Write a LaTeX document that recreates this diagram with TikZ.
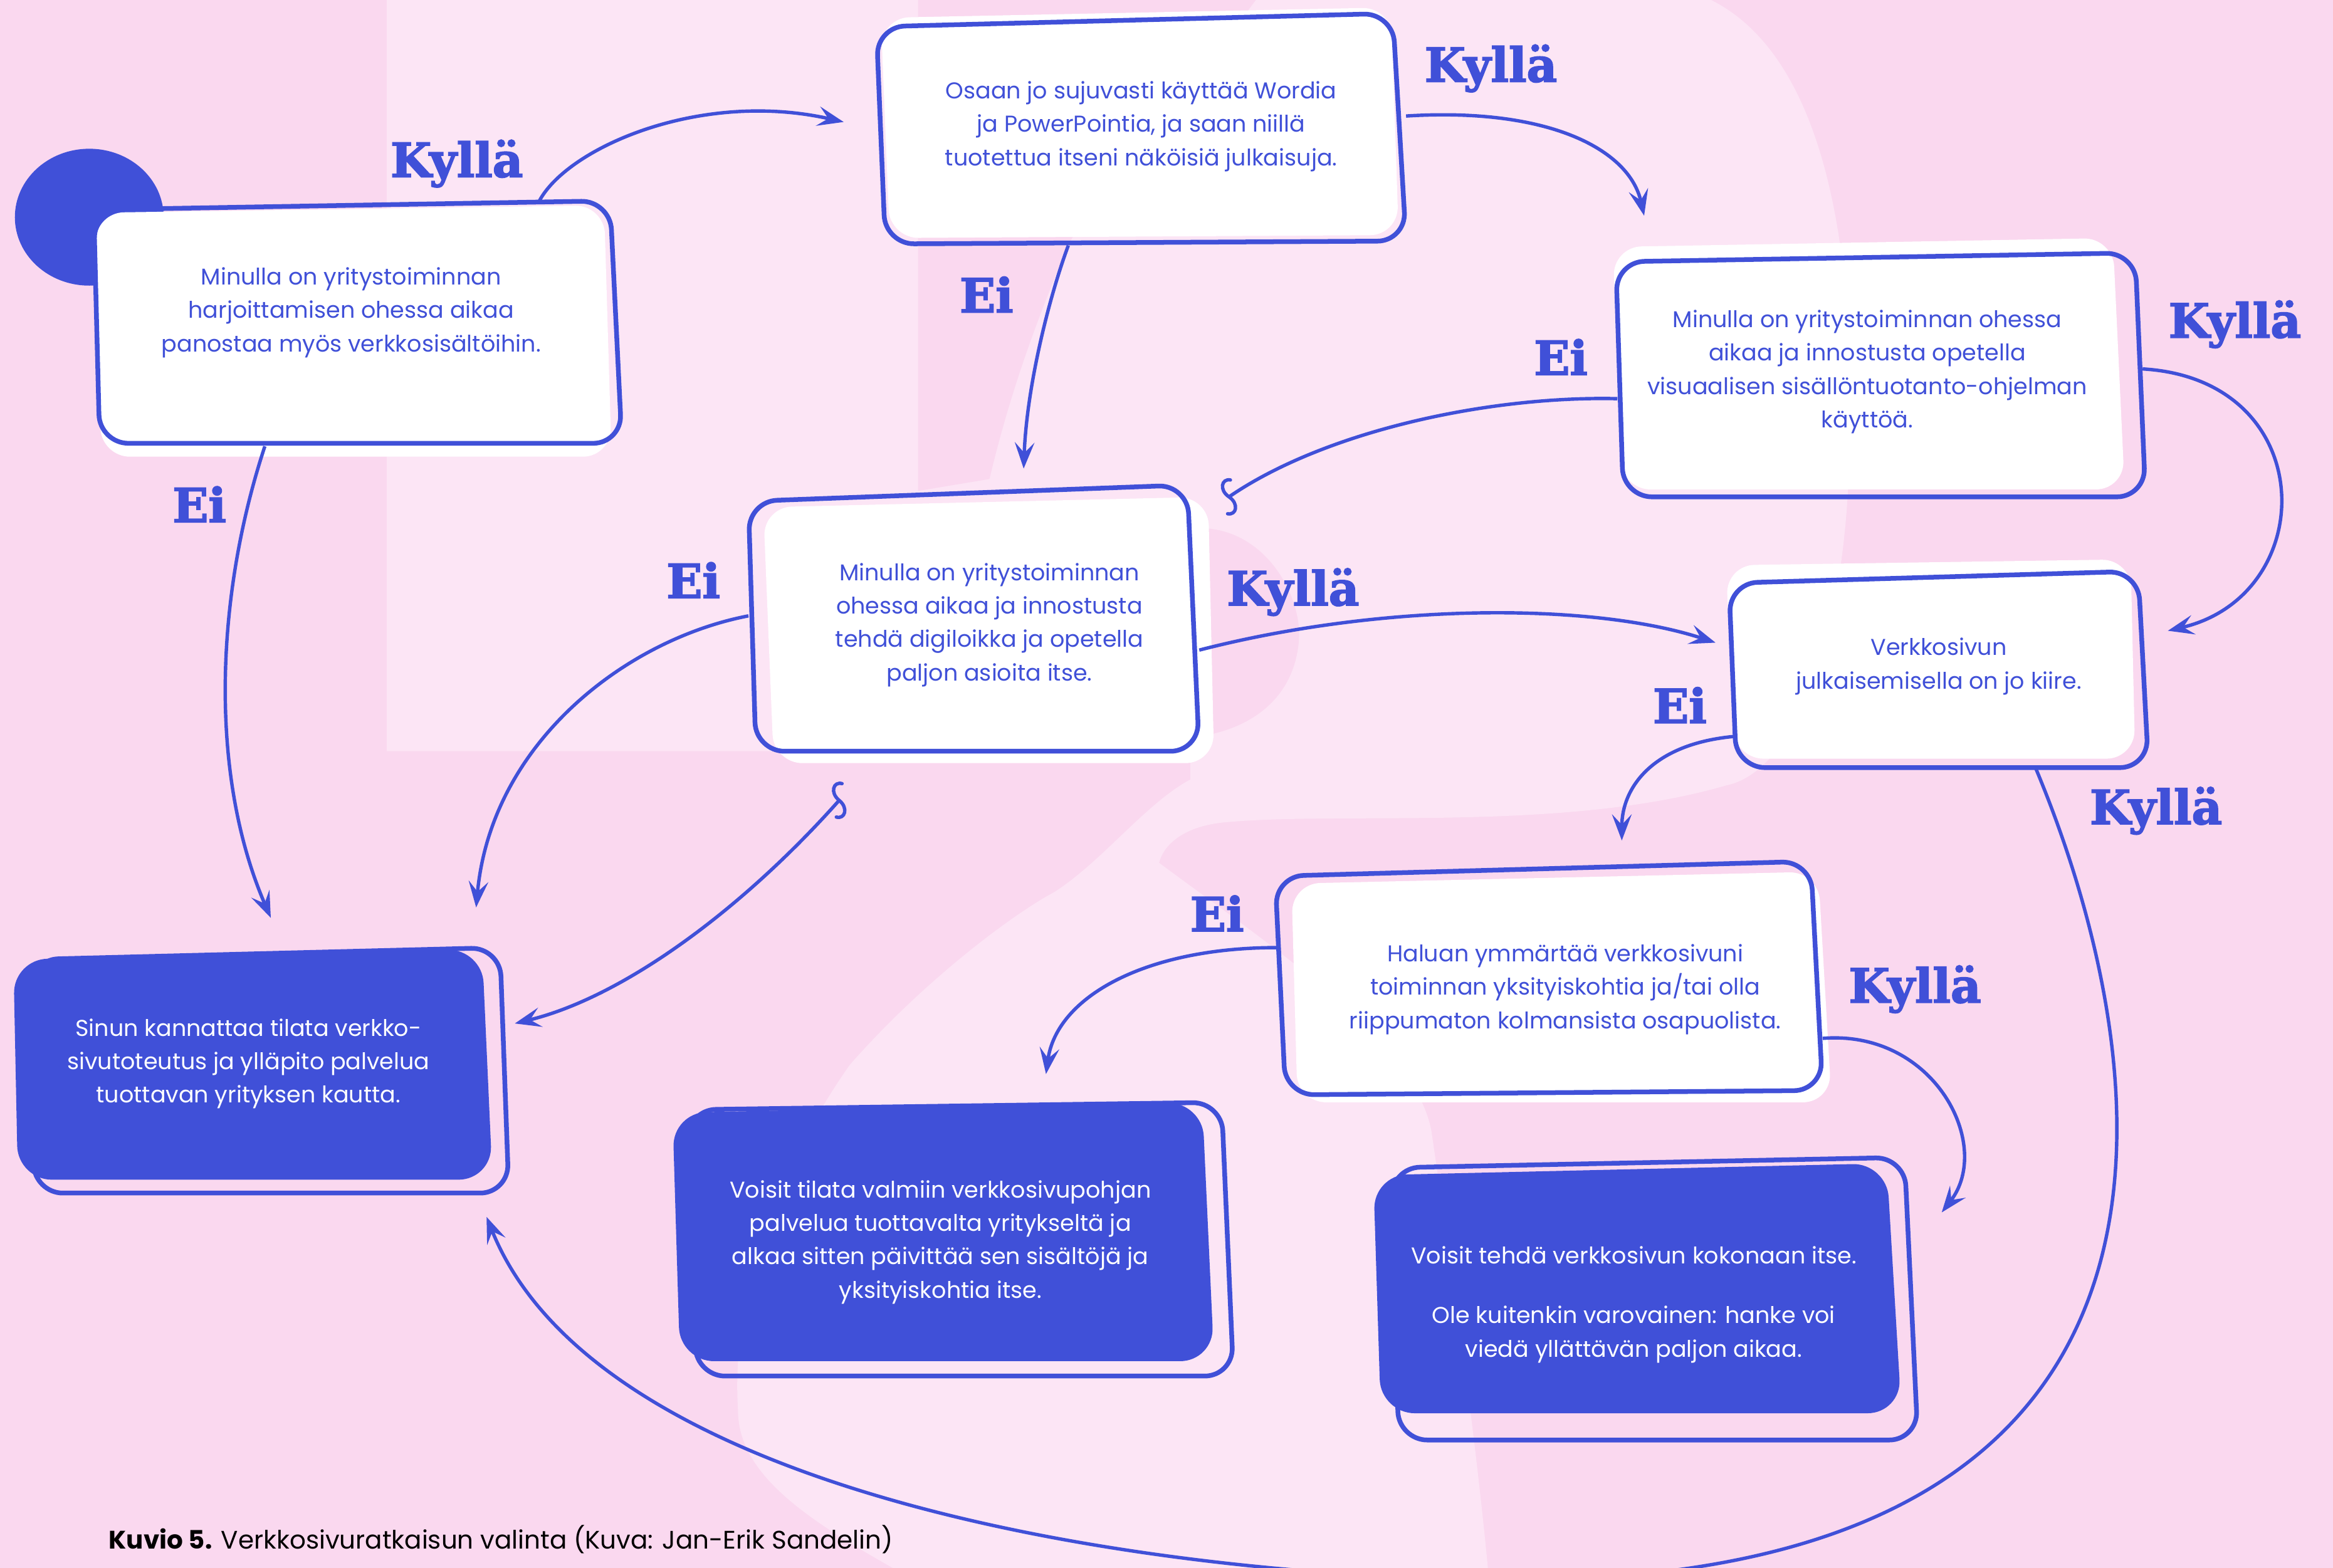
\documentclass[tikz,border=0pt]{standalone}
\usepackage{fontspec}
\setmainfont{Poppins}
\newfontfamily\slabfont[BoldFeatures={FakeBold=2.5}]{DejaVu Serif}
\usetikzlibrary{arrows.meta}
\usetikzlibrary{calc}
\definecolor{inkblue}{HTML}{4050D8}
\definecolor{pinkbg}{HTML}{FAD8EF}
\definecolor{pinklight}{HTML}{FCE5F5}

\begin{document}
\begin{tikzpicture}[x=0.02cm,y=-0.02cm,
  link/.style={inkblue,line width=1.3pt,-{Stealth[length=10pt,width=7.5pt,inset=4pt]}},
  cardline/.style={draw=inkblue,line width=1.8pt,rounded corners=11pt},
  card/.style={fill=white,rounded corners=11pt},
  bluecard/.style={fill=inkblue,rounded corners=13pt},
  txt/.style={text=inkblue,align=center,font=\fontsize{8.75}{12.8}\selectfont},
  wtxt/.style={txt,text=white},
  answer/.style={text=inkblue,font=\slabfont\bfseries\fontsize{18}{18}\selectfont},
  squig/.pic={\draw[inkblue,line width=1.3pt,line cap=round] (-3,-11) .. controls (-9,-10) and (-8,-2) .. (0,0) .. controls (8,2) and (9,10) .. (3,11);}]
\useasboundingbox (0,0) rectangle (1568,1054);
\clip (0,0) rectangle (1568,1054);
% background letter
\fill[pinkbg] (0,0) rectangle (1568,1054);
\fill[pinklight] (260,0) -- (1150,0) .. controls (1230,40) and (1250,180) .. (1242,330)
   .. controls (1235,450) and (1200,520) .. (1160,528) .. controls (1050,560) and (900,545) .. (821,553)
   .. controls (795,556) and (782,568) .. (779,580) .. controls (860,640) and (950,700) .. (962,760)
   .. controls (975,850) and (990,950) .. (1000,1054) -- (600,1054) .. controls (540,1020) and (496,990) .. (496,948)
   .. controls (490,850) and (540,760) .. (571,716) .. controls (620,660) and (680,615) .. (708,600)
   .. controls (740,580) and (770,540) .. (800,524) -- (800,505) -- (260,505) -- cycle;
\fill[pinkbg] (617,0) -- (844,0) .. controls (800,60) and (740,120) .. (718,165)
   .. controls (690,230) and (675,280) .. (665,322) -- (617,330) -- cycle;
\fill[pinkbg] (806,355) .. controls (850,355) and (875,400) .. (873,430) .. controls (870,470) and (840,490) .. (806,495) -- cycle;
\fill[inkblue] (60,146) ellipse [x radius=50, y radius=46];

% question cards
\fill[card] (64,143) -- (406,138) -- (411,307) -- (68,307) -- cycle;
\draw[cardline] (63,141) -- (410,135) -- (418,298) -- (67,298) -- cycle;
\fill[card] (592,12) -- (935,5) -- (940,158) -- (598,160) -- cycle;
\draw[cardline] (589,18) -- (936,9) -- (945,162) -- (595,164) -- cycle;
\fill[card] (513,341) -- (812,334) -- (816,513) -- (520,513) -- cycle;
\draw[cardline] (503,337) -- (798,326) -- (806,505) -- (508,505) -- cycle;
\fill[card] (1084,166) -- (1420,160) -- (1428,329) -- (1090,329) -- cycle;
\draw[cardline] (1086,176) -- (1435,170) -- (1442,334) -- (1091,334) -- cycle;
\fill[card] (1160,380) -- (1432,376) -- (1435,510) -- (1166,510) -- cycle;
\draw[cardline] (1162,392) -- (1437,384) -- (1444,516) -- (1167,516) -- cycle;
\fill[card] (868,594) -- (1222,586) -- (1231,741) -- (872,741) -- cycle;
\draw[cardline] (857,589) -- (1217,579) -- (1225,733) -- (864,736) -- cycle;
% answer cards
\draw[cardline] (20,645) -- (336,637) -- (342,802) -- (23,802) -- cycle;
\fill[bluecard] (9,645) -- (324,638) -- (331,793) -- (12,793) -- cycle;
\draw[cardline] (462,746) -- (821,741) -- (829,925) -- (468,925) -- cycle;
\fill[bluecard] (452,748) -- (808,741) -- (816,915) -- (457,915) -- cycle;
\draw[cardline] (935,785) -- (1280,778) -- (1289,968) -- (940,968) -- cycle;
\fill[bluecard] (923,790) -- (1268,782) -- (1278,950) -- (928,950) -- cycle;

\node[txt] (q1) at (236,210) {Minulla on yritystoiminnan\\harjoittamisen ohessa aikaa\\panostaa myös verkkosisältöihin.};
\node[txt] (q2) at (767,85) {Osaan jo sujuvasti käyttää Wordia\\ja PowerPointia, ja saan niillä\\tuotettua itseni näköisiä julkaisuja.};
\node[txt] (q3) at (665,420) {Minulla on yritystoiminnan\\ohessa aikaa ja innostusta\\tehdä digiloikka ja opetella\\paljon asioita itse.};
\node[txt] (q4) at (1255,250) {Minulla on yritystoiminnan ohessa\\aikaa ja innostusta opetella\\visuaalisen sisällöntuotanto-ohjelman\\käyttöä.};
\node[txt] (q5) at (1303,448) {Verkkosivun\\julkaisemisella on jo kiire.};
\node[txt] (q6) at (1052,665) {Haluan ymmärtää verkkosivuni\\toiminnan yksityiskohtia ja/tai olla\\riippumaton kolmansista osapuolista.};
\node[wtxt] (q7) at (167,715) {Sinun kannattaa tilata verkko-\\sivutoteutus ja ylläpito palvelua\\tuottavan yrityksen kautta.};
\node[wtxt] (q8) at (632,835) {Voisit tilata valmiin verkkosivupohjan\\palvelua tuottavalta yritykseltä ja\\alkaa sitten päivittää sen sisältöjä ja\\yksityiskohtia itse.};
\node[wtxt] (q9) at (1098,877) {Voisit tehdä verkkosivun kokonaan itse.\\[10pt]Ole kuitenkin varovainen: hanke voi\\viedä yllättävän paljon aikaa.};

% answers
\node[answer] (y1) at (307,110) {Kyllä};
\node[answer] (y2) at (1002,46) {Kyllä};
\node[answer] (y3) at (1502,218) {Kyllä};
\node[answer] (y4) at (869,398) {Kyllä};
\node[answer] (y5) at (1449,545) {Kyllä};
\node[answer] (y6) at (1287,665) {Kyllä};
\node[answer] (n1) at (663,198) {Ei};
\node[answer] (n2) at (1049,240) {Ei};
\node[answer] (n3) at (134,339) {Ei};
\node[answer] (n4) at (466,390) {Ei};
\node[answer] (n5) at (1129,474) {Ei};
\node[answer] (n6) at (818,614) {Ei};

% arrow tips
\coordinate (t1) at (567,82);
\coordinate (t2) at (1105,145);
\coordinate (t3) at (688,315);
\coordinate (t4) at (826,334);
\coordinate (t5) at (1457,424);
\coordinate (t6) at (182,617);
\coordinate (t7) at (320,610);
\coordinate (t8) at (1153,432);
\coordinate (t9) at (1090,565);
\coordinate (t10) at (327,818);
\coordinate (t11) at (346,688);
\coordinate (t12) at (703,722);
\coordinate (t13) at (1305,815);
\coordinate (s11) at (564,538);

\draw[link] ($(q1)+(126,-74)$) .. controls (380,100) and (470,60) .. (t1);
\draw[link] ($(q2)+(178,-7)$) .. controls (1040,72) and (1095,100) .. (t2);
\draw[link] ($(q2)+(-49,80)$) .. controls (705,200) and (690,260) .. (t3);
\draw[link,-] ($(q4)+(-168,18)$) .. controls (1000,266) and (890,290) .. (t4);
\draw[link] ($(q4)+(185,-2)$) .. controls (1560,255) and (1560,400) .. (t5);
\draw[link] ($(q1)+(-58,90)$) .. controls (145,400) and (140,520) .. (t6);
\draw[link] ($(q3)+(-162,-6)$) .. controls (420,430) and (330,500) .. (t7);
\draw[link] ($(q3)+(141,17)$) .. controls (930,405) and (1070,405) .. (t8);
\draw[link] ($(q5)+(-137,47)$) .. controls (1110,500) and (1090,530) .. (t9);
\draw[link] ($(q5)+(65,68)$) .. controls (1445,700) and (1520,1070) .. (1000,1062)
   .. controls (750,1058) and (400,1000) .. (t10);
\draw[link] (s11) .. controls (500,610) and (420,670) .. (t11);
\draw[link] ($(q6)+(-194,-28)$) .. controls (770,637) and (710,670) .. (t12);
\draw[link] ($(q6)+(173,33)$) .. controls (1300,692) and (1340,770) .. (t13);
\pic[rotate=-20] at (t4) {squig};
\pic[rotate=-25] at (s11) {squig};

\node[anchor=west,font=\fontsize{9.7}{11}\selectfont] (cap) at (67,1035) {\textbf{Kuvio 5.} Verkkosivuratkaisun valinta (Kuva: Jan-Erik Sandelin)};
\end{tikzpicture}
\end{document}
